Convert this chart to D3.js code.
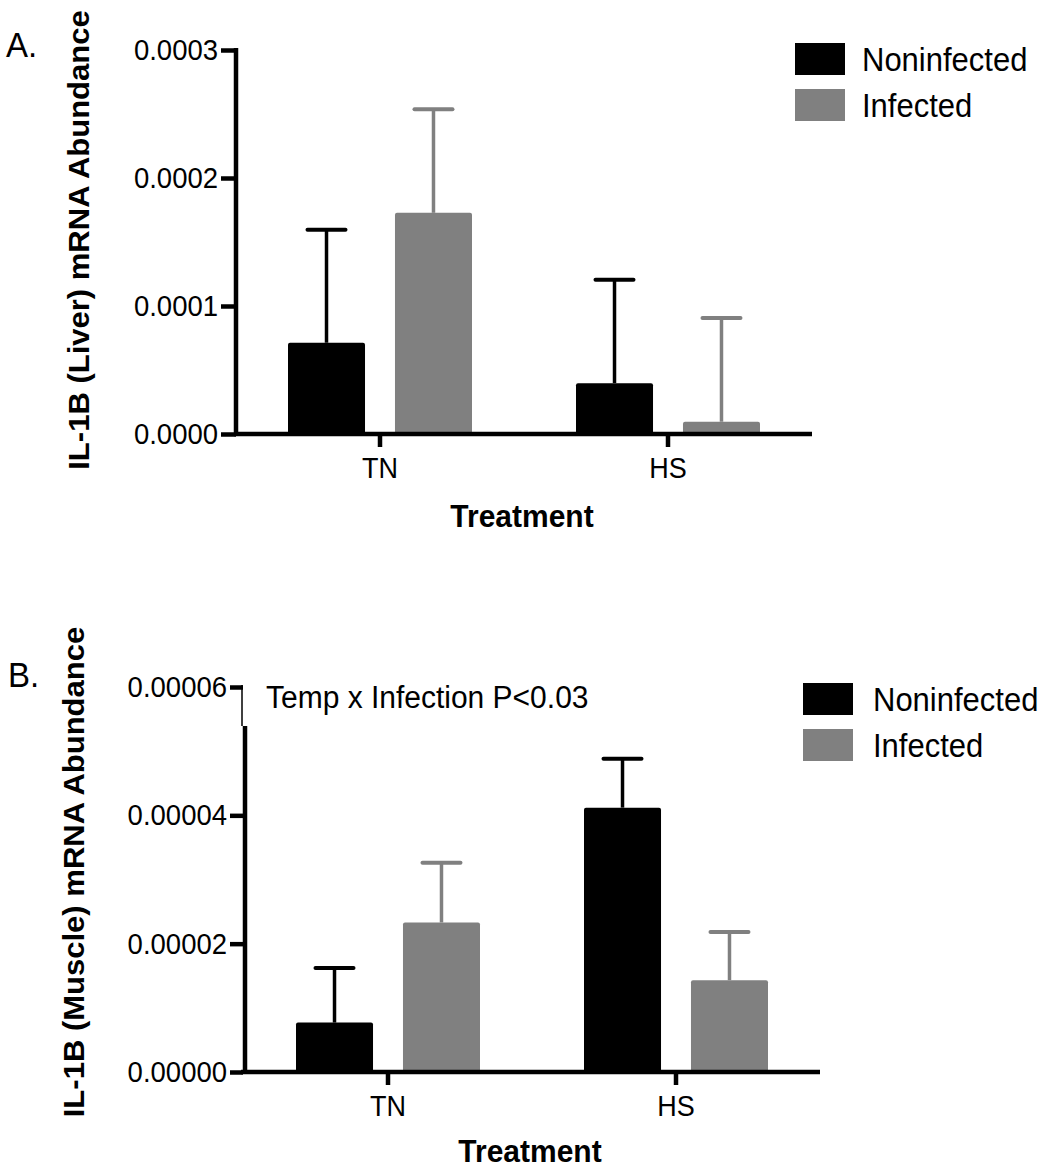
<!DOCTYPE html>
<html>
<head>
<meta charset="utf-8">
<script src="https://cdn.jsdelivr.net/npm/d3@7/dist/d3.min.js"></script>
<style>
  html, body { margin: 0; padding: 0; background: #fff; }
  svg { display: block; font-family: "Liberation Sans", Arial, Helvetica, sans-serif; }
</style>
</head>
<body>
<svg id="chart" width="1043" height="1168"></svg>
<script>
// ---------- DATA ----------
const categories = ["TN", "HS"];
const seriesNames = ["Noninfected", "Infected"];
const seriesColors = ["#000000", "#808080"];

// Panel A: IL-1B (Liver)
const liverNoninfMean = [0.0000713, 0.0000397];
const liverNoninfSEM  = [0.0000882, 0.0000809];
const liverInfMean    = [0.0001728, 0.0000096];
const liverInfSEM     = [0.0000809, 0.0000810];
const liverTicks      = [0, 0.0001, 0.0002, 0.0003];

// Panel B: IL-1B (Muscle)
const muscleNoninfMean = [0.0000077, 0.0000412];
const muscleNoninfSEM  = [0.0000085, 0.0000076];
const muscleInfMean    = [0.0000233, 0.0000143];
const muscleInfSEM     = [0.0000093, 0.0000075];
const muscleTicks      = [0, 0.00002, 0.00004, 0.00006];

const SY = 1.07; // vertical stretch of the lettering in the reference

const svg = d3.select("#chart");

function buildRows(nMean, nSem, iMean, iSem) {
  const rows = [];
  categories.forEach((c, i) => {
    rows.push({cat: c, series: seriesNames[0], mean: nMean[i], sem: nSem[i]});
    rows.push({cat: c, series: seriesNames[1], mean: iMean[i], sem: iSem[i]});
  });
  return rows;
}

function addText(parent, x, y, str, size, opts = {}) {
  const t = parent.append("text")
    .attr("transform", `translate(${x},${y}) scale(1,${SY})${opts.rotate ? " rotate(" + opts.rotate + ")" : ""}`)
    .attr("font-size", size).attr("fill", "#000").text(str);
  if (opts.anchor) t.attr("text-anchor", opts.anchor);
  if (opts.bold) t.attr("font-weight", "bold");
  return t;
}

function drawPanel(cfg) {
  const g = svg.append("g");
  const y = d3.scaleLinear().domain([0, cfg.ticks[cfg.ticks.length - 1]]).range([cfg.y0, cfg.yTop]);
  const x = d3.scaleBand().domain(categories).range([cfg.xLeft, cfg.xRight]);
  const xs = d3.scaleBand().domain(seriesNames).range([52, x.bandwidth() - 52]).paddingInner(0.28);
  const color = d3.scaleOrdinal().domain(seriesNames).range(seriesColors);
  const rows = buildRows(cfg.nMean, cfg.nSem, cfg.iMean, cfg.iSem);

  // error bars
  const eb = g.append("g");
  rows.forEach(d => {
    const cx = x(d.cat) + xs(d.series) + xs.bandwidth() / 2;
    const c = color(d.series);
    eb.append("line").attr("x1", cx).attr("x2", cx)
      .attr("y1", y(d.mean)).attr("y2", y(d.mean + d.sem))
      .attr("stroke", c).attr("stroke-width", 3.5);
    eb.append("line").attr("x1", cx - 19).attr("x2", cx + 19)
      .attr("y1", y(d.mean + d.sem)).attr("y2", y(d.mean + d.sem))
      .attr("stroke", c).attr("stroke-width", 4).attr("stroke-linecap", "round");
  });

  // bars
  g.append("g").selectAll("rect").data(rows).join("rect")
    .attr("x", d => x(d.cat) + xs(d.series))
    .attr("width", xs.bandwidth())
    .attr("y", d => y(d.mean))
    .attr("height", d => y(0) - y(d.mean))
    .attr("rx", 2).attr("ry", 2)
    .attr("fill", d => color(d.series));

  // y axis
  const ya = g.append("g").attr("transform", `translate(${cfg.yAxisX},0)`)
    .call(d3.axisLeft(y).tickValues(cfg.ticks).tickFormat(d3.format(cfg.fmt))
      .tickSize(cfg.yTick).tickSizeOuter(0).tickPadding(3));
  ya.selectAll(".tick line").attr("stroke", "#000").attr("stroke-width", 4.5);
  ya.selectAll(".tick text").attr("font-size", 27.5).attr("fill", "#000")
    .attr("font-family", "Liberation Sans, Arial, sans-serif")
    .attr("transform", `scale(1,${SY})`);
  if (cfg.brokenTop) {
    ya.select(".domain").remove();
    g.append("line").attr("x1", cfg.yAxisX - 1).attr("x2", cfg.yAxisX - 1)
      .attr("y1", cfg.yTop - 2).attr("y2", cfg.brokenTop)
      .attr("stroke", "#000").attr("stroke-width", 1.5);
    g.append("line").attr("x1", cfg.yAxisX + 2).attr("x2", cfg.yAxisX + 2)
      .attr("y1", cfg.brokenTop).attr("y2", cfg.y0 + 2)
      .attr("stroke", "#000").attr("stroke-width", 4.5);
  } else {
    ya.select(".domain").attr("stroke", "#000").attr("stroke-width", 4.5)
      .attr("d", `M0,${cfg.yTop - 2}V${cfg.y0 + 2}`);
  }

  // x axis
  const xa = g.append("g").attr("transform", `translate(0,${cfg.y0})`)
    .call(d3.axisBottom(x).tickSize(13).tickSizeOuter(0).tickPadding(9));
  xa.select(".domain").attr("stroke", "#000").attr("stroke-width", 4.5)
    .attr("d", `M${cfg.yAxisX - 2},0H${cfg.xRight}`);
  xa.selectAll(".tick line").attr("stroke", "#000").attr("stroke-width", 4.5);
  xa.selectAll(".tick text").attr("font-size", 27).attr("fill", "#000")
    .attr("font-family", "Liberation Sans, Arial, sans-serif")
    .attr("transform", `scale(1,${SY})`);

  // axis titles
  addText(g, cfg.yTitleX, cfg.yTitleY, cfg.yTitle, 29, {rotate: -90, anchor: "middle", bold: true});
  addText(g, (cfg.xLeft + cfg.xRight) / 2 - 2, cfg.xTitleY, "Treatment", 30, {anchor: "middle", bold: true});

  // panel letter
  addText(g, cfg.letterX, cfg.letterY, cfg.letter, 33);

  // legend
  const lg = g.append("g").attr("transform", `translate(${cfg.legX},${cfg.legY})`);
  seriesNames.forEach((s, i) => {
    lg.append("rect").attr("x", 0).attr("y", i * 46).attr("width", 50).attr("height", 32)
      .attr("fill", color(s));
    addText(lg, cfg.legTextDx, i * 46 + 28, s, 31);
  });

  if (cfg.note) {
    addText(g, cfg.noteX, cfg.noteY, cfg.note, 30);
  }
}

drawPanel({
  nMean: liverNoninfMean, nSem: liverNoninfSEM, iMean: liverInfMean, iSem: liverInfSEM,
  ticks: liverTicks, fmt: ".4f",
  y0: 434, yTop: 50, xLeft: 236, xRight: 812, yAxisX: 236, yTick: 15,
  yTitle: "IL-1B (Liver) mRNA Abundance", yTitleX: 89, yTitleY: 240, xTitleY: 527,
  letter: "A.", letterX: 6, letterY: 57,
  legX: 795, legY: 43, legTextDx: 67
});

drawPanel({
  nMean: muscleNoninfMean, nSem: muscleNoninfSEM, iMean: muscleInfMean, iSem: muscleInfSEM,
  ticks: muscleTicks, fmt: ".5f",
  y0: 1072, yTop: 687, xLeft: 244, xRight: 820, yAxisX: 243, yTick: 13, brokenTop: 726,
  yTitle: "IL-1B (Muscle) mRNA Abundance", yTitleX: 84, yTitleY: 872, xTitleY: 1162,
  letter: "B.", letterX: 8, letterY: 687,
  legX: 803, legY: 683, legTextDx: 70,
  note: "Temp x Infection P<0.03", noteX: 266, noteY: 708
});
</script>
</body>
</html>
